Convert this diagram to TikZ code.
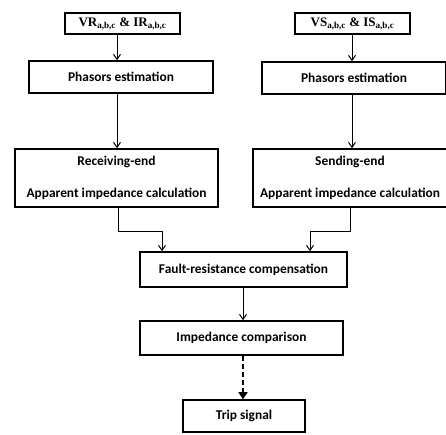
\documentclass[tikz,border=0pt]{standalone}
\usepackage{fontspec}
\setmainfont{Liberation Serif}
\newfontfamily\boxfont{Carlito}
\usetikzlibrary{arrows.meta}
\begin{document}
\begin{tikzpicture}[x=1pt,y=-1pt,
  blk/.style={draw, line width=1.6pt, rectangle, inner sep=0pt, align=center,
    font=\boxfont\bfseries\fontsize{13.4}{16}\selectfont},
  conn/.style={line width=1pt, -{Straight Barb[length=5pt,width=7pt,line width=1pt]}},
  dconn/.style={line width=2.2pt, dash pattern=on 5pt off 3pt, -{Triangle[length=7pt,width=9pt]}}]
\useasboundingbox (0,0) rectangle (446,434);
\node[blk, minimum width=115pt, minimum height=21pt, font=\bfseries\fontsize{13}{15}\selectfont] (VR) at (122.5,23.5) {VR\textsubscript{a,b,c} \& IR\textsubscript{a,b,c}};
\node[blk, minimum width=115pt, minimum height=21pt, font=\bfseries\fontsize{13}{15}\selectfont] (VS) at (352.5,23.5) {VS\textsubscript{a,b,c} \& IS\textsubscript{a,b,c}};
\node[blk, minimum width=184pt, minimum height=32pt] (PL) at (121,77) {Phasors estimation};
\node[blk, minimum width=184pt, minimum height=32pt] (PR) at (354,78) {Phasors estimation};
\node[blk, minimum width=203pt, minimum height=58pt] (RE) at (116.5,178) {Receiving-end\\[16pt]Apparent impedance calculation};
\node[blk, minimum width=194pt, minimum height=58pt] (SE) at (350,178) {Sending-end\\[16pt]Apparent impedance calculation};
\node[blk, minimum width=207pt, minimum height=35pt] (FR) at (243.5,269.5) {Fault-resistance compensation};
\node[blk, minimum width=203pt, minimum height=34pt] (IC) at (241.5,338) {Impedance comparison};
\node[blk, minimum width=122pt, minimum height=32pt] (TS) at (244,416) {Trip signal};
\coordinate (a1) at (117,0);
\coordinate (a2) at (352,0);
\draw[conn] (a1 |- VR.south) -- (a1 |- PL.north);
\draw[conn] (a2 |- VS.south) -- (a2 |- PR.north);
\draw[conn] (a1 |- PL.south) -- (a1 |- RE.north);
\draw[conn] (a2 |- PR.south) -- (a2 |- SE.north);
\coordinate (l1) at (118,231);
\coordinate (l2) at (162,231);
\coordinate (r1) at (350,231);
\coordinate (r2) at (310,231);
\draw[conn] (l1 |- RE.south) -- (l1) -- (l2) -- (l2 |- FR.north);
\draw[conn] (r1 |- SE.south) -- (r1) -- (r2) -- (r2 |- FR.north);
\coordinate (c1) at (243,0);
\draw[conn] (c1 |- FR.south) -- (c1 |- IC.north);
\draw[dconn] (c1 |- IC.south) -- (c1 |- TS.north);
\end{tikzpicture}
\end{document}
